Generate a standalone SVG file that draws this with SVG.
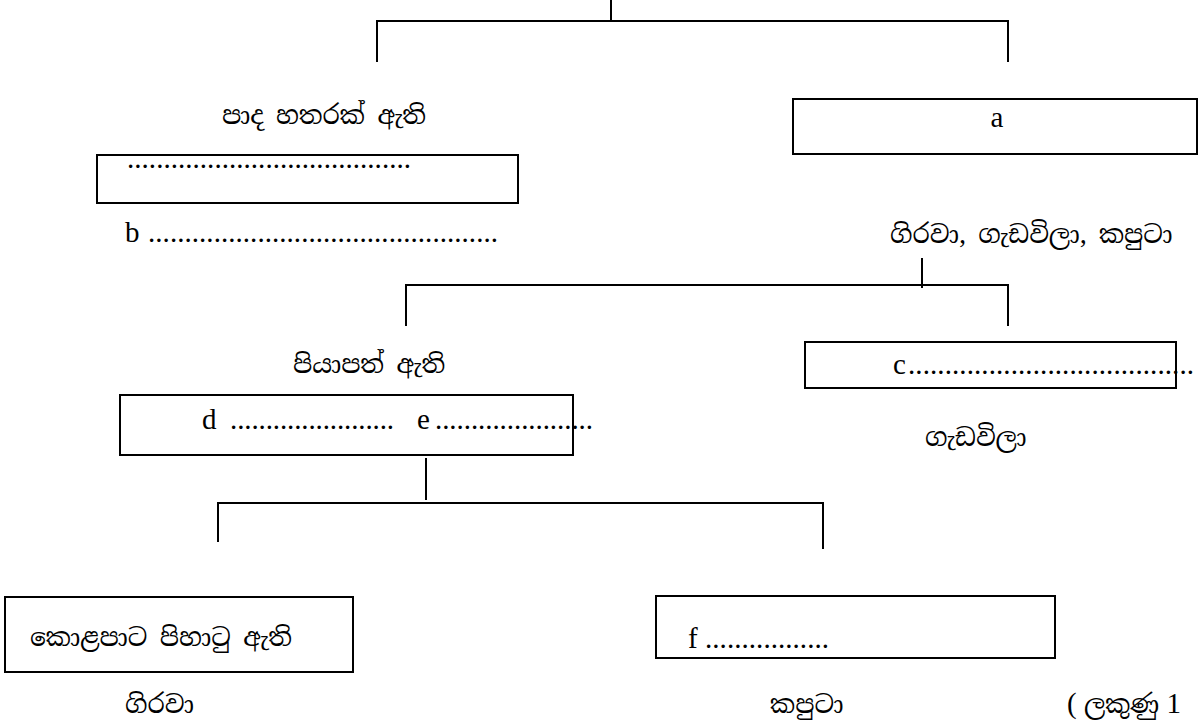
<svg xmlns="http://www.w3.org/2000/svg" width="1201" height="722" viewBox="0 0 1201 722">
<style>
.ln{stroke:#000;stroke-width:2;fill:none}
.bx{stroke:#000;stroke-width:2;fill:#fff}
.t{font-family:"Liberation Serif","Noto Serif Sinhala","Noto Sans Sinhala","Iskoola Pota",serif;font-size:29px;fill:#000}
.s{font-family:"Noto Serif Sinhala","Noto Sans Sinhala","Iskoola Pota","Liberation Serif",serif;font-size:25px;fill:#000}
</style>
<rect width="1201" height="722" fill="#fff"/>
<g id="connectors">
<path class="ln" d="M611,0V21M377,62V21H1008V62"/>
<path class="ln" d="M922,258V288M406,326V285H1008V326"/>
<path class="ln" d="M426,458V500M218,542V503H823V549"/>
</g>
<g id="n-four-legs"><text class="s" x="222" y="124">පාද හතරක් ඇති</text></g>
<g id="n-b"><rect class="bx" x="97" y="155" width="421" height="48"/>
<text class="t" x="127" y="168" textLength="284" lengthAdjust="spacing">.......................................</text>
<text class="t" x="125" y="242">b</text>
<text class="t" x="148" y="242" textLength="350" lengthAdjust="spacing">................................................</text></g>
<g id="n-a"><rect class="bx" x="793" y="99" width="404" height="55"/>
<text class="t" x="997" y="127" text-anchor="middle">a</text></g>
<g id="n-all"><text class="s" x="890" y="243">ගිරවා, ගැඩවිලා, කපුටා</text></g>
<g id="n-wings"><text class="s" x="293" y="373">පියාපත් ඇති</text></g>
<g id="n-c"><rect class="bx" x="805" y="342" width="371" height="46"/>
<text class="t" x="893" y="374">c</text>
<text class="t" x="908" y="374" textLength="286" lengthAdjust="spacing">.......................................</text></g>
<g id="n-earthworm"><text class="s" x="925" y="446">ගැඩවිලා</text></g>
<g id="n-de"><rect class="bx" x="120" y="395" width="453" height="60"/>
<text class="t" x="202" y="429">d</text>
<text class="t" x="230" y="429" textLength="164" lengthAdjust="spacing">.......................</text>
<text class="t" x="417" y="429">e</text>
<text class="t" x="435" y="429" textLength="158" lengthAdjust="spacing">......................</text></g>
<g id="n-green"><rect class="bx" x="5" y="597" width="348" height="75"/>
<text class="s" x="30" y="646">කොළපාට පිහාටු ඇති</text></g>
<g id="n-parrot"><text class="s" x="125" y="713">ගිරවා</text></g>
<g id="n-f"><rect class="bx" x="656" y="596" width="399" height="62"/>
<text class="t" x="688" y="648">f</text>
<text class="t" x="705" y="648" textLength="124" lengthAdjust="spacing">.................</text></g>
<g id="n-crow"><text class="s" x="770" y="713">කපුටා</text></g>
<g id="n-marks"><text class="t" x="1067" y="713">( <tspan class="s" font-size="27">ලකුණු</tspan>  1</text></g>
</svg>
